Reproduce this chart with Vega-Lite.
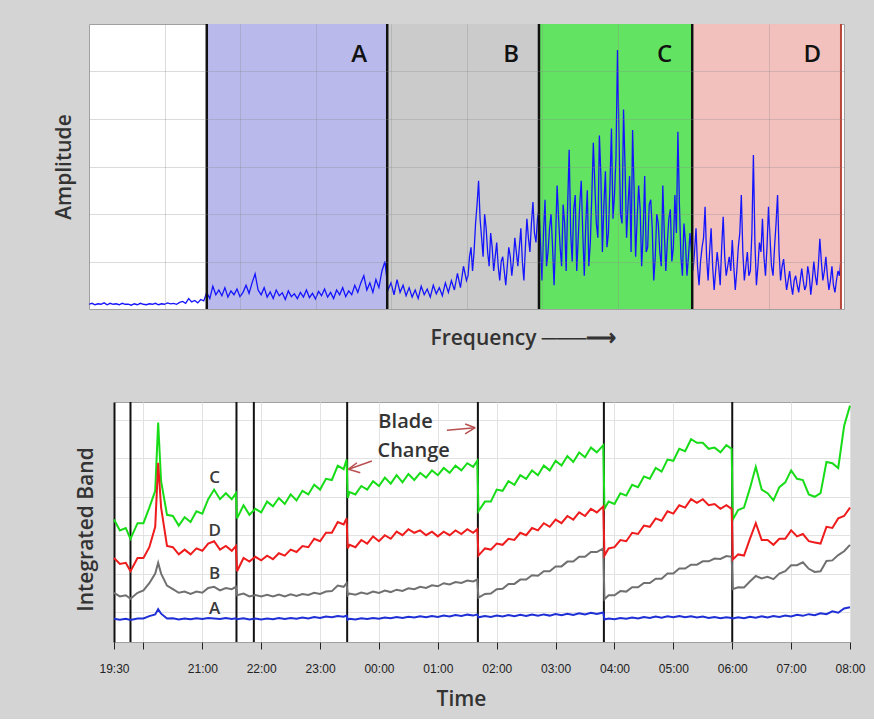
{
"$schema": "https://vega.github.io/schema/vega-lite/v6.json",
"background": "#d4d4d4",
"padding": {"left": 52, "top": 22, "right": 10, "bottom": 9},
"spacing": 50,
"resolve": {"scale": {"color": "independent"}},
"config": {
  "view": {"fill": "white", "stroke": "#a0a0a0"},
  "axis": {"titleFont": "Open Sans", "titleFontWeight": 600, "titleFontSize": 21, "titleColor": "#333333", "labelFont": "Liberation Sans", "labelFontSize": 12, "labelColor": "#222222"}
},
"datasets": {
  "bands": [
    {"band": "A", "start": 156, "end": 395},
    {"band": "B", "start": 395, "end": 596},
    {"band": "C", "start": 596, "end": 799},
    {"band": "D", "start": 799, "end": 996}
  ],
  "spectrum": [
    {"f":0,"a":0.10},{"f":4,"a":0.12},{"f":8,"a":0.09},{"f":12,"a":0.11},{"f":16,"a":0.10},{"f":20,"a":0.13},{"f":24,"a":0.09},{"f":28,"a":0.12},{"f":32,"a":0.10},{"f":36,"a":0.11},
    {"f":40,"a":0.09},{"f":44,"a":0.12},{"f":48,"a":0.10},{"f":52,"a":0.10},{"f":56,"a":0.08},{"f":60,"a":0.11},{"f":64,"a":0.09},{"f":68,"a":0.12},{"f":72,"a":0.10},{"f":76,"a":0.09},
    {"f":80,"a":0.11},{"f":84,"a":0.10},{"f":88,"a":0.12},{"f":92,"a":0.09},{"f":96,"a":0.11},{"f":100,"a":0.10},{"f":104,"a":0.13},{"f":108,"a":0.11},{"f":112,"a":0.12},{"f":116,"a":0.10},
    {"f":120,"a":0.14},{"f":124,"a":0.16},{"f":128,"a":0.12},{"f":132,"a":0.22},{"f":136,"a":0.15},{"f":140,"a":0.18},{"f":144,"a":0.13},{"f":148,"a":0.20},{"f":152,"a":0.17},
    {"f":156,"a":0.35},{"f":160,"a":0.22},{"f":164,"a":0.48},{"f":168,"a":0.30},{"f":172,"a":0.40},{"f":176,"a":0.28},{"f":180,"a":0.45},{"f":184,"a":0.25},{"f":188,"a":0.38},{"f":192,"a":0.30},
    {"f":196,"a":0.42},{"f":200,"a":0.26},{"f":204,"a":0.35},{"f":208,"a":0.50},{"f":212,"a":0.33},{"f":216,"a":0.55},{"f":220,"a":0.74},{"f":224,"a":0.40},{"f":228,"a":0.30},{"f":232,"a":0.45},
    {"f":236,"a":0.25},{"f":240,"a":0.36},{"f":244,"a":0.22},{"f":248,"a":0.40},{"f":252,"a":0.28},{"f":256,"a":0.34},{"f":260,"a":0.20},{"f":264,"a":0.38},{"f":268,"a":0.26},{"f":272,"a":0.32},
    {"f":276,"a":0.22},{"f":280,"a":0.35},{"f":284,"a":0.25},{"f":288,"a":0.40},{"f":292,"a":0.24},{"f":296,"a":0.33},{"f":300,"a":0.21},{"f":304,"a":0.37},{"f":308,"a":0.28},{"f":312,"a":0.42},
    {"f":316,"a":0.25},{"f":320,"a":0.35},{"f":324,"a":0.22},{"f":328,"a":0.40},{"f":332,"a":0.30},{"f":336,"a":0.45},{"f":340,"a":0.26},{"f":344,"a":0.38},{"f":348,"a":0.30},{"f":352,"a":0.50},
    {"f":356,"a":0.35},{"f":360,"a":0.55},{"f":364,"a":0.70},{"f":368,"a":0.40},{"f":372,"a":0.55},{"f":376,"a":0.35},{"f":380,"a":0.62},{"f":384,"a":0.45},{"f":388,"a":0.80},{"f":392,"a":1.00},
    {"f":396,"a":0.40},{"f":400,"a":0.55},{"f":404,"a":0.30},{"f":408,"a":0.62},{"f":412,"a":0.35},{"f":416,"a":0.50},{"f":420,"a":0.28},{"f":424,"a":0.45},{"f":428,"a":0.25},{"f":432,"a":0.40},
    {"f":436,"a":0.22},{"f":440,"a":0.48},{"f":444,"a":0.30},{"f":448,"a":0.42},{"f":452,"a":0.25},{"f":456,"a":0.50},{"f":460,"a":0.32},{"f":464,"a":0.45},{"f":468,"a":0.28},{"f":472,"a":0.55},
    {"f":476,"a":0.35},{"f":480,"a":0.60},{"f":484,"a":0.40},{"f":488,"a":0.75},{"f":492,"a":0.45},{"f":496,"a":0.90},{"f":500,"a":0.60},{"f":504,"a":1.10},{"f":508,"a":0.80},{"f":512,"a":1.80},
    {"f":516,"a":2.70},{"f":520,"a":1.50},{"f":524,"a":2.00},{"f":528,"a":1.20},{"f":532,"a":1.60},{"f":536,"a":0.80},{"f":540,"a":1.40},{"f":544,"a":0.60},{"f":548,"a":1.10},{"f":552,"a":0.50},
    {"f":556,"a":1.30},{"f":560,"a":0.70},{"f":564,"a":1.50},{"f":568,"a":0.90},{"f":572,"a":1.70},{"f":576,"a":0.60},{"f":580,"a":1.90},{"f":584,"a":1.20},{"f":588,"a":2.25},{"f":592,"a":1.40},
    {"f":596,"a":2.10},{"f":600,"a":0.60},{"f":604,"a":2.30},{"f":608,"a":1.20},{"f":612,"a":2.00},{"f":616,"a":0.50},{"f":620,"a":2.60},{"f":624,"a":1.30},{"f":628,"a":2.20},{"f":632,"a":0.80},
    {"f":636,"a":3.35},{"f":640,"a":1.00},{"f":644,"a":2.40},{"f":648,"a":1.50},{"f":652,"a":2.70},{"f":656,"a":0.70},{"f":660,"a":2.50},{"f":664,"a":1.40},{"f":668,"a":3.50},{"f":672,"a":1.80},
    {"f":676,"a":3.65},{"f":680,"a":1.20},{"f":684,"a":2.90},{"f":688,"a":1.60},{"f":692,"a":3.80},{"f":696,"a":2.40},{"f":700,"a":5.45},{"f":704,"a":2.00},{"f":708,"a":4.20},{"f":712,"a":1.50},
    {"f":716,"a":2.80},{"f":720,"a":3.77},{"f":724,"a":1.10},{"f":728,"a":2.60},{"f":732,"a":0.90},{"f":736,"a":2.80},{"f":740,"a":1.30},{"f":744,"a":2.30},{"f":748,"a":0.60},{"f":752,"a":2.00},
    {"f":756,"a":1.20},{"f":760,"a":2.60},{"f":764,"a":0.80},{"f":768,"a":1.90},{"f":772,"a":1.00},{"f":776,"a":2.40},{"f":780,"a":3.73},{"f":784,"a":1.10},{"f":788,"a":1.80},{"f":792,"a":0.70},
    {"f":796,"a":1.60},
    {"f":800,"a":0.80},{"f":804,"a":1.70},{"f":808,"a":0.50},{"f":812,"a":1.30},{"f":816,"a":2.15},{"f":820,"a":0.60},{"f":824,"a":1.70},{"f":828,"a":0.40},{"f":832,"a":1.20},{"f":836,"a":0.50},
    {"f":840,"a":1.94},{"f":844,"a":0.70},{"f":848,"a":1.10},{"f":852,"a":1.45},{"f":856,"a":0.40},{"f":860,"a":1.30},{"f":864,"a":2.40},{"f":868,"a":0.60},{"f":872,"a":1.20},{"f":876,"a":0.80},
    {"f":880,"a":3.24},{"f":884,"a":0.50},{"f":888,"a":1.40},{"f":892,"a":1.90},{"f":896,"a":0.70},{"f":900,"a":2.15},{"f":904,"a":0.90},{"f":908,"a":1.30},{"f":912,"a":2.40},{"f":916,"a":0.60},
    {"f":920,"a":1.05},{"f":924,"a":0.40},{"f":928,"a":0.80},{"f":932,"a":0.30},{"f":936,"a":0.70},{"f":940,"a":0.35},{"f":944,"a":0.85},{"f":948,"a":0.40},{"f":952,"a":0.90},{"f":956,"a":0.30},
    {"f":960,"a":1.00},{"f":964,"a":0.50},{"f":968,"a":1.48},{"f":972,"a":0.60},{"f":976,"a":1.10},{"f":980,"a":0.40},{"f":984,"a":0.90},{"f":988,"a":0.35},{"f":992,"a":0.80},{"f":996,"a":1.05},
    {"f":502,"a":0.7},{"f":506,"a":1.3},{"f":510,"a":1.2},{"f":514,"a":2.2},{"f":518,"a":1.9},{"f":522,"a":1.1},{"f":526,"a":1.7},{"f":530,"a":0.9},{"f":534,"a":1.3},{"f":538,"a":1.1},
    {"f":542,"a":0.9},{"f":546,"a":1.0},{"f":550,"a":0.8},{"f":554,"a":0.9},{"f":558,"a":1.1},{"f":562,"a":1.0},{"f":566,"a":1.2},{"f":570,"a":1.3},{"f":574,"a":1.0},{"f":578,"a":1.3},
    {"f":582,"a":1.5},{"f":586,"a":1.8},{"f":590,"a":1.6},{"f":594,"a":1.9},
    {"f":598,"a":1.4},{"f":602,"a":1.6},{"f":606,"a":0.9},{"f":610,"a":1.7},{"f":614,"a":1.3},{"f":618,"a":1.5},{"f":622,"a":1.9},{"f":626,"a":0.9},{"f":630,"a":1.8},{"f":634,"a":2.2},
    {"f":638,"a":1.6},{"f":642,"a":2.1},{"f":646,"a":0.8},{"f":650,"a":2.2},{"f":654,"a":1.6},{"f":658,"a":1.8},{"f":662,"a":0.9},{"f":666,"a":2.4},{"f":670,"a":2.6},{"f":674,"a":1.5},
    {"f":678,"a":2.8},{"f":682,"a":2.2},{"f":686,"a":1.3},{"f":690,"a":2.6},{"f":694,"a":1.9},{"f":698,"a":3.2},{"f":702,"a":3.6},{"f":706,"a":1.8},{"f":710,"a":3.0},{"f":714,"a":2.2},
    {"f":718,"a":1.2},{"f":722,"a":2.5},{"f":726,"a":1.9},{"f":730,"a":2.1},{"f":734,"a":1.6},{"f":738,"a":1.2},{"f":742,"a":2.2},{"f":746,"a":1.7},{"f":750,"a":1.1},{"f":754,"a":1.8},
    {"f":758,"a":0.9},{"f":762,"a":1.6},{"f":766,"a":1.4},{"f":770,"a":2.1},{"f":774,"a":1.3},{"f":778,"a":1.6},{"f":782,"a":2.2},{"f":786,"a":0.7},{"f":790,"a":1.4},{"f":794,"a":1.1},
    {"f":798,"a":1.2},
    {"f":802,"a":1.2},{"f":806,"a":0.9},{"f":810,"a":1.0},{"f":814,"a":1.5},{"f":818,"a":1.1},{"f":822,"a":1.2},{"f":826,"a":0.9},{"f":830,"a":0.8},{"f":834,"a":0.9},{"f":838,"a":1.3},
    {"f":842,"a":1.1},{"f":846,"a":0.9},{"f":850,"a":0.8},{"f":854,"a":0.9},{"f":858,"a":0.8},{"f":862,"a":1.6},{"f":866,"a":1.2},{"f":870,"a":0.9},{"f":874,"a":0.7},{"f":878,"a":1.6},
    {"f":882,"a":1.4},{"f":886,"a":0.9},{"f":890,"a":1.2},{"f":894,"a":1.1},{"f":898,"a":1.3},{"f":902,"a":1.5},{"f":906,"a":0.7},{"f":910,"a":1.8},{"f":914,"a":1.2},{"f":918,"a":0.9},
    {"f":922,"a":0.7},{"f":926,"a":0.6},{"f":930,"a":0.5},{"f":934,"a":0.6},{"f":938,"a":0.5},{"f":942,"a":0.6},{"f":946,"a":0.6},{"f":950,"a":0.5},{"f":954,"a":0.7},{"f":958,"a":0.6},
    {"f":962,"a":0.7},{"f":966,"a":0.9},{"f":970,"a":1.0},{"f":974,"a":0.8},{"f":978,"a":0.7},{"f":982,"a":0.6},{"f":986,"a":0.5},{"f":990,"a":0.6},{"f":994,"a":0.7}
  ],
  "series": [
    {"t":19.5,"C":5.1,"D":3.5,"B":2.05,"A":0.97},
    {"t":19.6,"C":4.65,"D":3.25,"B":1.9,"A":0.93},
    {"t":19.7,"C":4.75,"D":3.3,"B":1.95,"A":0.97},
    {"t":19.78,"C":4.3,"D":2.95,"B":1.8,"A":0.92},
    {"t":19.9,"C":4.95,"D":3.5,"B":2.05,"A":0.98},
    {"t":20.0,"C":4.95,"D":3.5,"B":2.15,"A":0.98},
    {"t":20.1,"C":5.6,"D":3.95,"B":2.45,"A":1.08},
    {"t":20.2,"C":6.3,"D":4.8,"B":2.85,"A":1.15},
    {"t":20.25,"C":9.14,"D":7.47,"B":3.3,"A":1.37},
    {"t":20.3,"C":6.7,"D":5.6,"B":2.85,"A":1.18},
    {"t":20.4,"C":5.3,"D":4.0,"B":2.35,"A":0.98},
    {"t":20.5,"C":5.25,"D":3.95,"B":2.2,"A":0.99},
    {"t":20.6,"C":4.85,"D":3.65,"B":2.05,"A":0.94},
    {"t":20.7,"C":5.2,"D":3.85,"B":2.1,"A":0.98},
    {"t":20.8,"C":5.0,"D":3.65,"B":2.0,"A":0.95},
    {"t":20.9,"C":5.45,"D":3.9,"B":2.1,"A":0.99},
    {"t":21.0,"C":5.35,"D":3.8,"B":2.05,"A":0.96},
    {"t":21.1,"C":5.95,"D":4.1,"B":2.25,"A":1.0},
    {"t":21.2,"C":6.35,"D":4.2,"B":2.3,"A":0.98},
    {"t":21.3,"C":5.95,"D":3.85,"B":2.15,"A":0.96},
    {"t":21.4,"C":6.2,"D":4.0,"B":2.25,"A":1.0},
    {"t":21.5,"C":5.95,"D":3.8,"B":2.2,"A":0.96},
    {"t":21.57,"C":6.2,"D":4.0,"B":2.3,"A":0.99},
    {"t":21.59,"C":5.15,"D":2.95,"B":1.95,"A":0.95},
    {"t":21.7,"C":5.7,"D":3.5,"B":2.02,"A":0.99},
    {"t":21.8,"C":5.3,"D":3.35,"B":1.9,"A":0.94},
    {"t":21.9,"C":5.55,"D":3.55,"B":1.96,"A":0.98},
    {"t":22.0,"C":5.4,"D":3.4,"B":1.9,"A":0.94},
    {"t":22.1,"C":5.85,"D":3.6,"B":1.97,"A":0.98},
    {"t":22.2,"C":5.65,"D":3.45,"B":1.9,"A":0.95},
    {"t":22.3,"C":6.0,"D":3.7,"B":1.98,"A":1.0},
    {"t":22.4,"C":5.75,"D":3.6,"B":1.9,"A":0.96},
    {"t":22.5,"C":6.15,"D":3.85,"B":1.99,"A":1.0},
    {"t":22.6,"C":5.9,"D":3.75,"B":1.92,"A":0.97},
    {"t":22.7,"C":6.3,"D":4.0,"B":2.0,"A":1.02},
    {"t":22.8,"C":6.15,"D":3.95,"B":1.96,"A":0.98},
    {"t":22.9,"C":6.55,"D":4.3,"B":2.05,"A":1.04},
    {"t":23.0,"C":6.35,"D":4.2,"B":2.0,"A":1.0},
    {"t":23.1,"C":6.8,"D":4.55,"B":2.1,"A":1.06},
    {"t":23.2,"C":6.75,"D":4.55,"B":2.12,"A":1.03},
    {"t":23.3,"C":7.35,"D":5.0,"B":2.35,"A":1.08},
    {"t":23.4,"C":7.2,"D":4.9,"B":2.3,"A":1.05},
    {"t":23.45,"C":7.6,"D":5.15,"B":2.45,"A":1.1},
    {"t":23.47,"C":6.0,"D":3.9,"B":1.95,"A":0.93},
    {"t":23.5,"C":6.25,"D":4.05,"B":2.02,"A":0.97},
    {"t":23.6,"C":6.15,"D":3.95,"B":1.97,"A":0.94},
    {"t":23.7,"C":6.5,"D":4.25,"B":2.06,"A":0.99},
    {"t":23.8,"C":6.35,"D":4.1,"B":2.0,"A":0.96},
    {"t":23.9,"C":6.7,"D":4.4,"B":2.1,"A":1.0},
    {"t":24.0,"C":6.5,"D":4.2,"B":2.04,"A":0.97},
    {"t":24.1,"C":6.85,"D":4.45,"B":2.14,"A":1.02},
    {"t":24.2,"C":6.6,"D":4.3,"B":2.08,"A":0.99},
    {"t":24.3,"C":6.95,"D":4.6,"B":2.18,"A":1.04},
    {"t":24.4,"C":6.65,"D":4.45,"B":2.13,"A":1.0},
    {"t":24.5,"C":7.0,"D":4.7,"B":2.24,"A":1.05},
    {"t":24.6,"C":6.75,"D":4.55,"B":2.2,"A":1.02},
    {"t":24.7,"C":7.05,"D":4.65,"B":2.3,"A":1.07},
    {"t":24.8,"C":6.85,"D":4.45,"B":2.25,"A":1.03},
    {"t":24.9,"C":7.15,"D":4.6,"B":2.36,"A":1.08},
    {"t":25.0,"C":6.95,"D":4.4,"B":2.32,"A":1.04},
    {"t":25.1,"C":7.25,"D":4.6,"B":2.45,"A":1.1},
    {"t":25.2,"C":7.05,"D":4.45,"B":2.4,"A":1.06},
    {"t":25.3,"C":7.35,"D":4.65,"B":2.5,"A":1.12},
    {"t":25.4,"C":7.15,"D":4.5,"B":2.46,"A":1.08},
    {"t":25.5,"C":7.45,"D":4.7,"B":2.56,"A":1.14},
    {"t":25.6,"C":7.3,"D":4.55,"B":2.52,"A":1.1},
    {"t":25.67,"C":7.55,"D":4.7,"B":2.6,"A":1.15},
    {"t":25.69,"C":5.45,"D":3.6,"B":1.85,"A":1.03},
    {"t":25.8,"C":5.85,"D":3.9,"B":2.0,"A":1.08},
    {"t":25.9,"C":5.85,"D":3.85,"B":2.02,"A":1.04},
    {"t":26.0,"C":6.35,"D":4.1,"B":2.2,"A":1.1},
    {"t":26.1,"C":6.3,"D":4.05,"B":2.22,"A":1.06},
    {"t":26.2,"C":6.7,"D":4.3,"B":2.42,"A":1.12},
    {"t":26.3,"C":6.55,"D":4.25,"B":2.42,"A":1.07},
    {"t":26.4,"C":6.95,"D":4.55,"B":2.6,"A":1.13},
    {"t":26.5,"C":6.8,"D":4.45,"B":2.6,"A":1.08},
    {"t":26.6,"C":7.15,"D":4.75,"B":2.78,"A":1.14},
    {"t":26.7,"C":6.95,"D":4.65,"B":2.76,"A":1.09},
    {"t":26.8,"C":7.35,"D":4.95,"B":2.95,"A":1.15},
    {"t":26.9,"C":7.15,"D":4.8,"B":2.95,"A":1.1},
    {"t":27.0,"C":7.55,"D":5.1,"B":3.15,"A":1.17},
    {"t":27.1,"C":7.35,"D":4.95,"B":3.15,"A":1.12},
    {"t":27.2,"C":7.75,"D":5.25,"B":3.35,"A":1.18},
    {"t":27.3,"C":7.5,"D":5.1,"B":3.35,"A":1.13},
    {"t":27.4,"C":7.9,"D":5.4,"B":3.55,"A":1.2},
    {"t":27.5,"C":7.7,"D":5.25,"B":3.55,"A":1.15},
    {"t":27.6,"C":8.1,"D":5.55,"B":3.75,"A":1.22},
    {"t":27.7,"C":7.9,"D":5.4,"B":3.75,"A":1.17},
    {"t":27.81,"C":8.2,"D":5.65,"B":3.9,"A":1.23},
    {"t":27.83,"C":5.55,"D":3.6,"B":1.78,"A":0.94},
    {"t":27.9,"C":5.85,"D":3.9,"B":1.95,"A":0.98},
    {"t":28.0,"C":5.75,"D":3.95,"B":1.95,"A":0.95},
    {"t":28.1,"C":6.2,"D":4.25,"B":2.12,"A":1.0},
    {"t":28.2,"C":6.1,"D":4.2,"B":2.1,"A":0.97},
    {"t":28.3,"C":6.55,"D":4.55,"B":2.28,"A":1.02},
    {"t":28.4,"C":6.45,"D":4.5,"B":2.28,"A":0.98},
    {"t":28.5,"C":6.9,"D":4.85,"B":2.46,"A":1.04},
    {"t":28.6,"C":6.8,"D":4.8,"B":2.46,"A":1.0},
    {"t":28.7,"C":7.25,"D":5.15,"B":2.64,"A":1.06},
    {"t":28.8,"C":7.1,"D":5.05,"B":2.64,"A":1.01},
    {"t":28.9,"C":7.6,"D":5.45,"B":2.85,"A":1.07},
    {"t":29.0,"C":7.55,"D":5.35,"B":2.85,"A":1.03},
    {"t":29.1,"C":8.05,"D":5.7,"B":3.06,"A":1.08},
    {"t":29.2,"C":7.95,"D":5.6,"B":3.06,"A":1.03},
    {"t":29.3,"C":8.45,"D":5.95,"B":3.22,"A":1.07},
    {"t":29.4,"C":8.3,"D":5.8,"B":3.22,"A":1.02},
    {"t":29.5,"C":8.3,"D":5.95,"B":3.36,"A":1.06},
    {"t":29.6,"C":8.05,"D":5.7,"B":3.36,"A":1.0},
    {"t":29.7,"C":8.1,"D":5.75,"B":3.48,"A":1.04},
    {"t":29.8,"C":7.9,"D":5.55,"B":3.46,"A":0.99},
    {"t":29.9,"C":8.2,"D":5.7,"B":3.58,"A":1.03},
    {"t":29.99,"C":8.05,"D":5.55,"B":3.55,"A":1.0},
    {"t":30.01,"C":5.1,"D":3.44,"B":2.2,"A":0.98},
    {"t":30.1,"C":5.5,"D":3.65,"B":2.28,"A":1.03},
    {"t":30.2,"C":5.6,"D":3.6,"B":2.27,"A":0.99},
    {"t":30.3,"C":6.4,"D":4.3,"B":2.52,"A":1.05},
    {"t":30.4,"C":7.3,"D":4.95,"B":2.75,"A":1.01},
    {"t":30.5,"C":6.35,"D":4.25,"B":2.65,"A":1.07},
    {"t":30.6,"C":6.2,"D":4.25,"B":2.72,"A":1.02},
    {"t":30.7,"C":5.9,"D":4.05,"B":2.62,"A":1.08},
    {"t":30.8,"C":6.45,"D":4.3,"B":2.85,"A":1.04},
    {"t":30.9,"C":6.65,"D":4.3,"B":2.95,"A":1.1},
    {"t":31.0,"C":7.15,"D":4.65,"B":3.2,"A":1.06},
    {"t":31.1,"C":6.8,"D":4.4,"B":3.2,"A":1.13},
    {"t":31.2,"C":6.75,"D":4.5,"B":3.32,"A":1.09},
    {"t":31.3,"C":6.15,"D":4.2,"B":3.05,"A":1.16},
    {"t":31.4,"C":6.05,"D":4.15,"B":2.92,"A":1.12},
    {"t":31.5,"C":6.2,"D":4.1,"B":2.95,"A":1.2},
    {"t":31.6,"C":7.5,"D":4.8,"B":3.38,"A":1.16},
    {"t":31.7,"C":7.45,"D":4.75,"B":3.4,"A":1.28},
    {"t":31.8,"C":7.25,"D":5.15,"B":3.62,"A":1.22},
    {"t":31.9,"C":9.0,"D":5.25,"B":3.78,"A":1.4},
    {"t":32.0,"C":9.85,"D":5.6,"B":4.05,"A":1.45}
  ],
  "changes": [{"t":19.78},{"t":21.58},{"t":21.875},{"t":23.46},{"t":25.68},{"t":27.82},{"t":30.0}],
  "arrows": [
    {"t1":25.154,"v1":8.82,"t2":25.634,"v2":8.93},
    {"t1":25.634,"v1":8.93,"t2":25.464,"v2":9.08},
    {"t1":25.634,"v1":8.93,"t2":25.464,"v2":8.67},
    {"t1":23.88,"v1":7.54,"t2":23.483,"v2":7.2},
    {"t1":23.483,"v1":7.2,"t2":23.626,"v2":7.47},
    {"t1":23.483,"v1":7.2,"t2":23.682,"v2":7.05}
  ],
  "notes": [{"t":23.99,"v":9.17,"txt":"Blade"},{"t":23.975,"v":7.96,"txt":"Change"}],
  "serieslabels": [{"t":21.21,"v":6.85,"lab":"C"},{"t":21.21,"v":4.63,"lab":"D"},{"t":21.21,"v":2.83,"lab":"B"},{"t":21.21,"v":1.375,"lab":"A"}]
},
"vconcat": [
  {
    "hconcat": [
      {
        "width": 755,
        "height": 285,
        "layer": [
          {
            "data": {"name": "bands"},
            "mark": {"type": "rect"},
            "encoding": {
              "x": {"field": "start", "type": "quantitative", "scale": {"domain": [0, 1000], "nice": false, "zero": false},
                    "axis": {"title": "Frequency ───⟶", "labels": false, "ticks": false, "domain": false, "grid": true, "values": [100,200,300,400,500,600,700,800,900], "gridColor": "#888888", "gridOpacity": 0.3, "titlePadding": 18, "titleX": 434, "titleAlign": "center", "zindex": 1}},
              "x2": {"field": "end"},
              "y": {"datum": 0, "type": "quantitative", "scale": {"domain": [0, 6], "nice": false},
                    "axis": {"title": "Amplitude", "labels": false, "ticks": false, "domain": false, "grid": true, "values": [1,2,3,4,5], "gridColor": "#888888", "gridOpacity": 0.3, "titlePadding": 15, "zindex": 1}},
              "y2": {"datum": 6},
              "color": {"field": "band", "type": "nominal", "scale": {"domain": ["A","B","C","D"], "range": ["#b9b9ec","#cbcbcb","#62e462","#f2c1bd"]}, "legend": null}
            }
          },
          {
            "data": {"name": "spectrum"},
            "mark": {"type": "line", "color": "#1414ff", "strokeWidth": 1.3},
            "encoding": {
              "x": {"field": "f", "type": "quantitative"},
              "y": {"field": "a", "type": "quantitative"}
            }
          },
          {
            "data": {"name": "bands"},
            "mark": {"type": "rule", "color": "#111111", "strokeWidth": 2.5},
            "encoding": {
              "x": {"field": "start", "type": "quantitative"}
            }
          },
          {
            "data": {"values": [{"edge": 996}]},
            "mark": {"type": "rule", "color": "#b8473c", "strokeWidth": 2},
            "encoding": {
              "x": {"field": "edge", "type": "quantitative"}
            }
          },
          {
            "data": {"name": "bands"},
            "mark": {"type": "text", "align": "right", "baseline": "middle", "dx": -20, "font": "Open Sans", "fontSize": 24, "fontWeight": 600, "color": "#111111"},
            "encoding": {
              "x": {"field": "end", "type": "quantitative"},
              "y": {"datum": 5.34, "type": "quantitative"},
              "text": {"field": "band"}
            }
          }
        ]
      }
    ]
  },
  {
    "spacing": -19,
    "hconcat": [
      {
        "width": 1,
        "height": 1,
        "view": {"stroke": null, "fill": null},
        "data": {"values": [{"k": 0}]},
        "mark": {"type": "point", "opacity": 0},
        "encoding": {}
      },
      {
        "width": 736,
        "height": 240,
        "layer": [
          {
            "data": {"name": "changes"},
            "mark": {"type": "rule", "color": "#111111", "strokeWidth": 2},
            "encoding": {
              "x": {"field": "t", "type": "quantitative", "scale": {"domain": [19.5, 32], "nice": false, "zero": false},
                    "axis": {"title": "Time", "values": [19.5,20,21,22,23,24,25,26,27,28,29,30,31,32],
                             "labelExpr": "datum.value == 19.5 ? '19:30' : datum.value == 20 ? '' : ((datum.value % 24) < 10 ? '0' : '') + (datum.value % 24) + ':00'",
                             "labelFlush": false, "labelOverlap": false, "grid": true, "gridColor": "#e2e2e2", "ticks": true, "tickColor": "#222222", "tickSize": 7, "domain": false, "labelPadding": 14, "titlePadding": 14, "titleX": 347, "titleAlign": "center"}},
              "y": {"datum": 0, "type": "quantitative", "scale": {"domain": [0, 10], "nice": false},
                    "axis": {"title": "Integrated Band", "values": [1.25,2.85,4.45,6.05,7.65,9.25], "grid": true, "gridColor": "#e2e2e2", "ticks": false, "labels": false, "domain": true, "domainColor": "#111111", "domainWidth": 2, "titlePadding": 18, "titleY": 127, "titleAlign": "center"}},
              "y2": {"datum": 10}
            }
          },
          {
            "data": {"name": "series"},
            "transform": [{"fold": ["A","B","C","D"], "as": ["band","value"]}],
            "mark": {"type": "line", "strokeWidth": 2},
            "encoding": {
              "x": {"field": "t", "type": "quantitative"},
              "y": {"field": "value", "type": "quantitative"},
              "color": {"field": "band", "type": "nominal", "scale": {"domain": ["A","B","C","D"], "range": ["#1f2fd6","#707070","#18dc18","#ee1c1c"]}, "legend": null}
            }
          },
          {
            "data": {"name": "serieslabels"},
            "mark": {"type": "text", "align": "center", "baseline": "middle", "font": "Open Sans", "fontSize": 17, "fontWeight": 600, "color": "#3a3a3a"},
            "encoding": {
              "x": {"field": "t", "type": "quantitative"},
              "y": {"field": "v", "type": "quantitative"},
              "text": {"field": "lab"}
            }
          },
          {
            "data": {"name": "notes"},
            "mark": {"type": "text", "align": "left", "baseline": "middle", "font": "Open Sans", "fontSize": 20, "fontWeight": 600, "color": "#333333"},
            "encoding": {
              "x": {"field": "t", "type": "quantitative"},
              "y": {"field": "v", "type": "quantitative"},
              "text": {"field": "txt"}
            }
          },
          {
            "data": {"name": "arrows"},
            "mark": {"type": "rule", "color": "#b85050", "strokeWidth": 1.5},
            "encoding": {
              "x": {"field": "t1", "type": "quantitative"},
              "y": {"field": "v1", "type": "quantitative"},
              "x2": {"field": "t2"},
              "y2": {"field": "v2"}
            }
          }
        ]
      }
    ]
  }
]
}
